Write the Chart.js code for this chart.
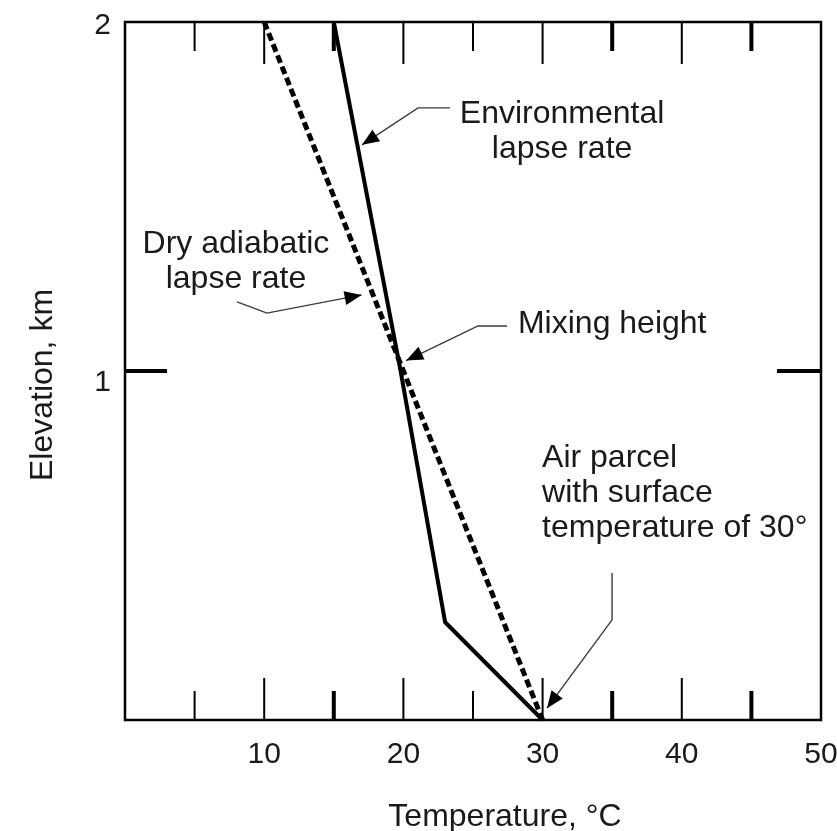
<!DOCTYPE html>
<html>
<head>
<meta charset="utf-8">
<script src="https://cdn.jsdelivr.net/npm/chart.js@4/dist/chart.umd.min.js"></script>
<style>
  html, body { margin: 0; padding: 0; background: #fff; }
  #wrap { width: 837px; height: 831px; }
</style>
</head>
<body>
<div id="wrap"><canvas id="chart" width="837" height="831"></canvas></div>
<script>
// dados
const envTemp = [15, 19.8, 23, 30];     // lapse rate ambiental (°C)
const envElev = [2, 1, 0.28, 0];        // km
const dryTemp = [10, 30];               // adiabática seca (°C)
const dryElev = [2, 0];                 // km
const xTickLabels = [10, 20, 30, 40, 50];
const yTickLabels = [1, 2];
const xMinorTicks = [5, 15, 25, 35, 45];
const heavyMinor = [15, 35, 45];

const FONT = '32px "Liberation Sans", Arial, sans-serif';
const TICK_FONT = '30px "Liberation Sans", Arial, sans-serif';
const INK = '#1a1a1a';

// notas com setas (coordenadas em °C / km)
const notes = [
  { lines: ['Environmental', 'lapse rate'], x: 31.4, y: 1.711, align: 'center',
    arrow: [[23.35, 1.754], [21.05, 1.754], [17.03, 1.648]] },
  { lines: ['Dry adiabatic', 'lapse rate'], x: 7.97, y: 1.338, align: 'center',
    arrow: [[8.05, 1.198], [10.2, 1.166], [17.0, 1.218]] },
  { lines: ['Mixing height'], x: 28.23, y: 1.109, align: 'left',
    arrow: [[27.44, 1.129], [25.36, 1.129], [20.2, 1.03]] },
  { lines: ['Air parcel', 'with surface', 'temperature of 30°'], x: 29.96, y: 0.725, align: 'left',
    arrow: [[34.99, 0.421], [34.99, 0.287], [30.32, 0.034]] }
];

function toXY(xs, ys) {
  return xs.map((v, i) => ({ x: v, y: ys[i] }));
}

function drawArrow(ctx, pts) {
  ctx.save();
  ctx.strokeStyle = '#3a3a3a';
  ctx.lineWidth = 1.4;
  ctx.beginPath();
  pts.forEach((p, i) => i ? ctx.lineTo(p[0], p[1]) : ctx.moveTo(p[0], p[1]));
  ctx.stroke();
  const a = pts[pts.length - 2], b = pts[pts.length - 1];
  const ang = Math.atan2(b[1] - a[1], b[0] - a[0]);
  const len = 17, half = 7;
  ctx.fillStyle = '#000';
  ctx.beginPath();
  ctx.moveTo(b[0], b[1]);
  ctx.lineTo(b[0] - len * Math.cos(ang) + half * Math.sin(ang), b[1] - len * Math.sin(ang) - half * Math.cos(ang));
  ctx.lineTo(b[0] - len * Math.cos(ang) - half * Math.sin(ang), b[1] - len * Math.sin(ang) + half * Math.cos(ang));
  ctx.closePath();
  ctx.fill();
  ctx.restore();
}

// moldura, marcas dos eixos, rótulos e notas
const framePlugin = {
  id: 'frame',
  afterDraw(chart) {
    const ctx = chart.ctx;
    const xs = chart.scales.x, ys = chart.scales.y;
    const a = chart.chartArea;
    ctx.save();
    ctx.strokeStyle = '#000';
    ctx.lineWidth = 2.5;
    ctx.strokeRect(a.left, a.top, a.right - a.left, a.bottom - a.top);

    // marcas do eixo x (em cima e em baixo, para dentro)
    xTickLabels.forEach(v => {
      const px = xs.getPixelForValue(v);
      ctx.lineWidth = 2;
      ctx.beginPath();
      ctx.moveTo(px, a.bottom); ctx.lineTo(px, a.bottom - 42);
      ctx.moveTo(px, a.top); ctx.lineTo(px, a.top + 42);
      ctx.stroke();
    });
    xMinorTicks.forEach(v => {
      const px = xs.getPixelForValue(v);
      ctx.lineWidth = heavyMinor.includes(v) ? 4 : 2;
      ctx.beginPath();
      ctx.moveTo(px, a.bottom); ctx.lineTo(px, a.bottom - 29);
      ctx.moveTo(px, a.top); ctx.lineTo(px, a.top + 29);
      ctx.stroke();
    });
    // marca do eixo y em 1 km (2 km fica na moldura)
    yTickLabels.filter(v => v < 2).forEach(v => {
      const py = ys.getPixelForValue(v);
      ctx.lineWidth = 4;
      ctx.beginPath();
      ctx.moveTo(a.left, py); ctx.lineTo(a.left + 42, py);
      ctx.moveTo(a.right, py); ctx.lineTo(a.right - 44, py);
      ctx.stroke();
    });

    ctx.fillStyle = INK;
    ctx.font = TICK_FONT;
    ctx.textAlign = 'center';
    ctx.textBaseline = 'alphabetic';
    xTickLabels.forEach(v => {
      ctx.fillText(String(v), xs.getPixelForValue(v), 763);
    });
    ctx.textAlign = 'right';
    ctx.textBaseline = 'middle';
    yTickLabels.forEach(v => {
      ctx.fillText(String(v), 111, ys.getPixelForValue(v) + (v === 2 ? 4 : 12));
    });

    // títulos dos eixos
    ctx.font = FONT;
    ctx.textAlign = 'center';
    ctx.textBaseline = 'alphabetic';
    ctx.fillText('Temperature, °C', 505, 826);
    ctx.save();
    ctx.translate(52, 385);
    ctx.rotate(-Math.PI / 2);
    ctx.fillText('Elevation, km', 0, 0);
    ctx.restore();

    // notas
    notes.forEach(n => {
      const px = xs.getPixelForValue(n.x), py = ys.getPixelForValue(n.y);
      ctx.textAlign = n.align;
      n.lines.forEach((t, i) => ctx.fillText(t, px, py + i * 35));
      drawArrow(ctx, n.arrow.map(p => [xs.getPixelForValue(p[0]), ys.getPixelForValue(p[1])]));
    });
    ctx.restore();
  }
};

new Chart(document.getElementById('chart'), {
  type: 'scatter',
  data: {
    datasets: [
      {
        label: 'Environmental lapse rate',
        data: toXY(envTemp, envElev),
        showLine: true,
        borderColor: '#000',
        borderWidth: 4,
        borderJoinStyle: 'round',
        pointRadius: 0,
        clip: false
      },
      {
        label: 'Dry adiabatic lapse rate',
        data: toXY(dryTemp, dryElev),
        showLine: true,
        borderColor: '#000',
        borderWidth: 5,
        borderDash: [8, 4],
        pointRadius: 0,
        clip: false
      }
    ]
  },
  options: {
    responsive: false,
    devicePixelRatio: 1,
    animation: false,
    layout: { padding: { left: 125, right: 16, top: 22, bottom: 111 } },
    plugins: { legend: { display: false }, tooltip: { enabled: false } },
    scales: {
      x: { type: 'linear', min: 0, max: 50, display: false },
      y: { type: 'linear', min: 0, max: 2, display: false }
    }
  },
  plugins: [framePlugin]
});
</script>
</body>
</html>
